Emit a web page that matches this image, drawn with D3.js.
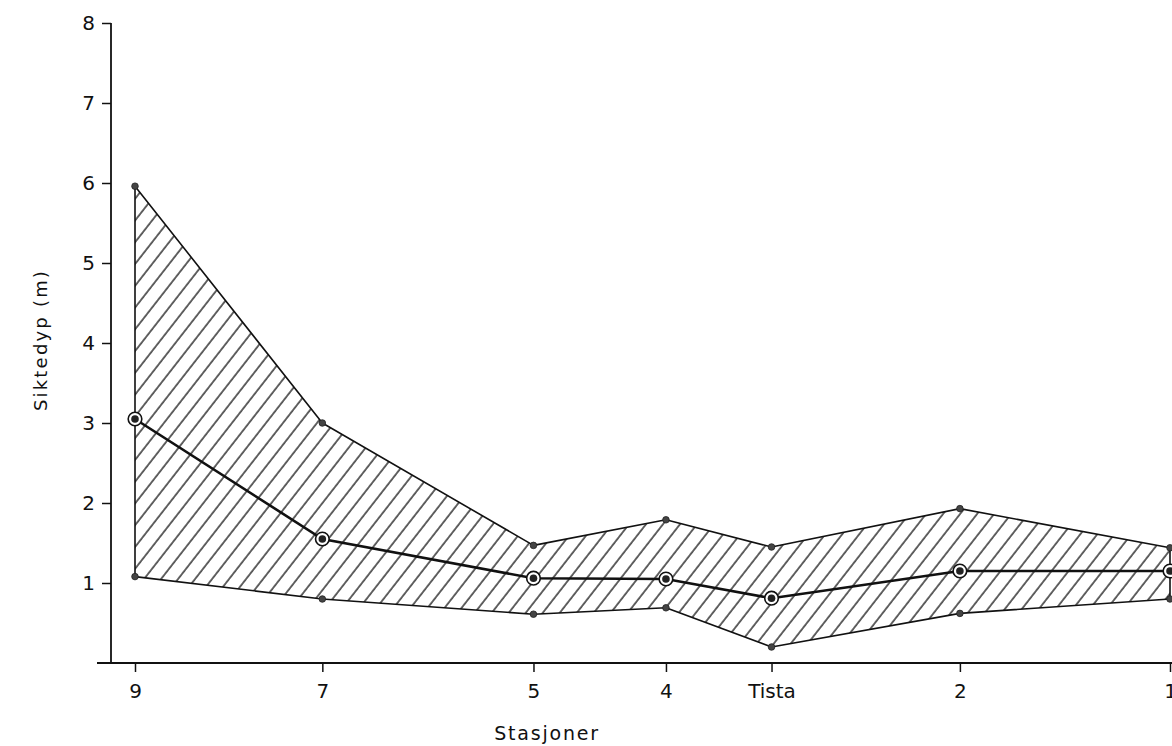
<!DOCTYPE html>
<html>
<head>
<meta charset="utf-8">
<script src="https://cdn.jsdelivr.net/npm/d3@7"></script>
<style>
  html, body { margin: 0; padding: 0; background: #fff; }
  svg { display: block; }
  text { font-family: "DejaVu Sans", "Liberation Sans", sans-serif; fill: #111; }
</style>
</head>
<body>
<svg id="chart" width="1172" height="746"></svg>
<script>
// ---- data ----
const stations = ["9", "7", "5", "4", "Tista", "2", "1"];
const stationPos = [0, 1.81, 3.85, 5.13, 6.15, 7.97, 10.0];   // relative distance along the river
const upper  = [5.96, 3.00, 1.47, 1.79, 1.45, 1.93, 1.44];
const median = [3.05, 1.55, 1.06, 1.05, 0.81, 1.15, 1.15];
const lower  = [1.08, 0.80, 0.61, 0.69, 0.20, 0.62, 0.80];
const yTicks = [1, 2, 3, 4, 5, 6, 7, 8];

const svg = d3.select("#chart");
const x = d3.scaleLinear().domain([0, 10]).range([135, 1170]);
const y = d3.scaleLinear().domain([0, 8]).range([663, 23]);

// hatch pattern
const defs = svg.append("defs");
const pat = defs.append("pattern")
  .attr("id", "hatch")
  .attr("patternUnits", "userSpaceOnUse")
  .attr("width", 13.4).attr("height", 13.4)
  .attr("patternTransform", "rotate(38)");
pat.append("line")
  .attr("x1", 1).attr("y1", -1).attr("x2", 1).attr("y2", 15)
  .attr("stroke", "#111").attr("stroke-width", 1.3);

const data = stations.map((s, i) => ({ s, p: stationPos[i], u: upper[i], m: median[i], l: lower[i] }));

// band
const area = d3.area().x(d => x(d.p)).y0(d => y(d.l)).y1(d => y(d.u));
svg.append("path").datum(data)
  .attr("d", area)
  .attr("fill", "url(#hatch)")
  .attr("stroke", "#111").attr("stroke-width", 1.6)
  .attr("stroke-linejoin", "round");

// median line
const line = d3.line().x(d => x(d.p)).y(d => y(d.m));
svg.append("path").datum(data)
  .attr("d", line)
  .attr("fill", "none")
  .attr("stroke", "#111").attr("stroke-width", 2.6);

// band end dots
["u", "l"].forEach(k => {
  svg.append("g").selectAll("circle").data(data).join("circle")
    .attr("cx", d => x(d.p)).attr("cy", d => y(d[k]))
    .attr("r", 3.3).attr("fill", "#444").attr("stroke", "#222").attr("stroke-width", 0.8);
});

// median markers
const mg = svg.append("g").selectAll("g").data(data).join("g")
  .attr("transform", d => `translate(${x(d.p)},${y(d.m)})`);
mg.append("circle").attr("r", 6.8).attr("fill", "#fff").attr("stroke", "#111").attr("stroke-width", 1.6);
mg.append("circle").attr("r", 3.8).attr("fill", "#222");

// y axis
const yAxis = d3.axisLeft(y).tickValues(yTicks).tickSize(9).tickPadding(7).tickFormat(d3.format("d"));
const gy = svg.append("g").attr("transform", "translate(111,0)").call(yAxis);
gy.select(".domain").remove();
gy.selectAll(".tick line").attr("stroke", "#111").attr("stroke-width", 1.5);
gy.selectAll(".tick text").attr("font-size", 20).attr("fill", "#111");
svg.append("line").attr("x1", 111).attr("x2", 111).attr("y1", y(8)).attr("y2", y(0))
  .attr("stroke", "#111").attr("stroke-width", 1.8);

// x axis
const xAxis = d3.axisBottom(x).tickValues(stationPos).tickSize(9).tickPadding(12)
  .tickFormat((d, i) => stations[i]);
const gx = svg.append("g").attr("transform", `translate(0,${y(0)})`).call(xAxis);
gx.select(".domain").remove();
gx.selectAll(".tick line").attr("stroke", "#111").attr("stroke-width", 1.5);
gx.selectAll(".tick text").attr("font-size", 20).attr("fill", "#111");
svg.append("line").attr("x1", 97).attr("x2", 1172).attr("y1", y(0)).attr("y2", y(0))
  .attr("stroke", "#111").attr("stroke-width", 1.8);

// axis titles
svg.append("text")
  .attr("transform", "translate(47,340) rotate(-90)")
  .attr("text-anchor", "middle")
  .attr("font-size", 18).attr("letter-spacing", 2.2)
  .text("Siktedyp (m)");
svg.append("text")
  .attr("x", 547).attr("y", 740)
  .attr("text-anchor", "middle")
  .attr("font-size", 19).attr("letter-spacing", 1.8)
  .text("Stasjoner");
</script>
</body>
</html>
